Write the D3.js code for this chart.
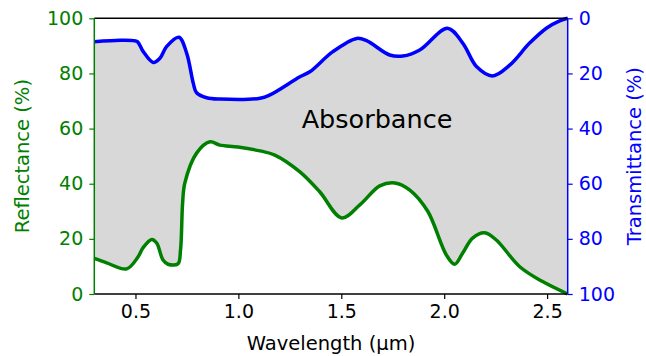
<!DOCTYPE html>
<html><head><meta charset="utf-8">
<script src="https://cdn.jsdelivr.net/npm/d3@7"></script>
<style>body{margin:0;background:#fff}svg{display:block;font-family:"DejaVu Sans",sans-serif}</style>
</head><body>
<svg id="c" width="646" height="356"></svg>
<script>
// Reflectance (green, left axis)
const reflWl  = [0.300,0.360,0.457,0.512,0.536,0.579,0.603,0.634,0.658,0.706,0.719,0.729,0.740,0.797,0.862,0.910,0.998,1.105,1.177,1.299,1.396,1.502,1.590,1.687,1.760,1.833,1.920,2.011,2.051,2.090,2.138,2.197,2.253,2.367,2.478,2.600];
const reflVal = [12.9,11.3,9.1,13.4,16.7,19.8,18.5,12.3,10.8,10.9,16.0,33.0,40.3,51.1,55.2,54.0,53.3,51.9,50.4,44.3,37.0,27.6,32.3,39.2,40.3,37.7,30.0,14.1,10.8,14.9,20.3,22.2,19.6,9.9,4.5,0.0];
// Transmittance (blue, right inverted axis)
const transWl  = [0.300,0.425,0.489,0.510,0.538,0.586,0.619,0.651,0.711,0.749,0.781,0.797,0.846,0.910,1.105,1.153,1.299,1.347,1.459,1.575,1.623,1.735,1.799,1.881,2.016,2.090,2.158,2.235,2.318,2.415,2.498,2.561,2.600];
const transVal = [8.5,8.0,8.1,8.5,12.1,16.0,14.5,10.3,6.9,12.7,23.6,27.0,28.8,29.3,29.0,27.8,21.2,19.4,12.1,7.3,8.1,13.3,13.7,11.5,3.6,9.0,17.6,20.9,17.0,9.0,3.5,0.9,0.0];
const xTicks = [0.5,1.0,1.5,2.0,2.5];
const yTicks = [0,20,40,60,80,100];

const refl = reflWl.map((w,i)=>({w, v:reflVal[i]}));
const trans = transWl.map((w,i)=>({w, v:transVal[i]}));

const L=94.3, R=567.7, T=18.3, B=294;
const svg = d3.select("#c");
const x = d3.scaleLinear().domain([0.3,2.6]).range([L,R]);
const yL = d3.scaleLinear().domain([0,100]).range([B,T]);
const yR = d3.scaleLinear().domain([0,100]).range([T,B]);
const curve = d3.curveCatmullRom.alpha(0.5);

svg.append("rect").attr("x",L).attr("y",T).attr("width",R-L).attr("height",B-T).attr("fill","#d8d8d8");
svg.append("path").datum(refl).attr("fill","#fff")
  .attr("d", d3.area().x(d=>x(d.w)).y0(B+1).y1(d=>yL(d.v)).curve(curve));
svg.append("path").datum(trans).attr("fill","#fff")
  .attr("d", d3.area().x(d=>x(d.w)).y0(T-1).y1(d=>yR(d.v)).curve(curve));

svg.append("text").attr("x",377).attr("y",128).attr("text-anchor","middle")
  .attr("font-size","25.5px").attr("fill","#000").text("Absorbance");

svg.append("path").datum(refl).attr("fill","none").attr("stroke","green").attr("stroke-width",3.5)
  .attr("stroke-linejoin","round").attr("d", d3.line().x(d=>x(d.w)).y(d=>yL(d.v)).curve(curve));
svg.append("path").datum(trans).attr("fill","none").attr("stroke","blue").attr("stroke-width",3.5)
  .attr("stroke-linejoin","round").attr("d", d3.line().x(d=>x(d.w)).y(d=>yR(d.v)).curve(curve));

function styleAxis(g,color){
  g.select(".domain").remove();
  g.selectAll("line").attr("stroke",color).attr("stroke-width",1.2);
  g.selectAll("text").attr("fill",color).attr("font-size","19px").attr("font-family","DejaVu Sans");
}
const gx = svg.append("g").attr("transform",`translate(0,${B})`)
  .call(d3.axisBottom(x).tickValues(xTicks).tickFormat(d3.format(".1f")).tickSize(5).tickPadding(6));
styleAxis(gx,"#000");
const gl = svg.append("g").attr("transform",`translate(${L},0)`)
  .call(d3.axisLeft(yL).tickValues(yTicks).tickSize(5).tickPadding(6));
styleAxis(gl,"green");
const gr = svg.append("g").attr("transform",`translate(${R},0)`)
  .call(d3.axisRight(yR).tickValues(yTicks).tickSize(5).tickPadding(6));
styleAxis(gr,"blue");

// spines
svg.append("line").attr("x1",L).attr("x2",R).attr("y1",T).attr("y2",T).attr("stroke","#000").attr("stroke-width",1.5);
svg.append("line").attr("x1",L).attr("x2",R).attr("y1",B).attr("y2",B).attr("stroke","#000").attr("stroke-width",1.5);
svg.append("line").attr("x1",L).attr("x2",L).attr("y1",T).attr("y2",B).attr("stroke","green").attr("stroke-width",1.5);
svg.append("line").attr("x1",R).attr("x2",R).attr("y1",T).attr("y2",B).attr("stroke","blue").attr("stroke-width",1.5);

svg.append("text").attr("x",(L+R)/2).attr("y",350).attr("text-anchor","middle")
  .attr("font-size","19.5px").attr("fill","#000").text("Wavelength (µm)");
svg.append("text").attr("transform",`translate(29,${(T+B)/2}) rotate(-90)`).attr("text-anchor","middle")
  .attr("font-size","19.5px").attr("fill","green").text("Reflectance (%)");
svg.append("text").attr("transform",`translate(641,${(T+B)/2}) rotate(-90)`).attr("text-anchor","middle")
  .attr("font-size","19.5px").attr("fill","blue").text("Transmittance (%)");
svg.selectAll("text").attr("font-family","DejaVu Sans");
</script>
</body></html>
